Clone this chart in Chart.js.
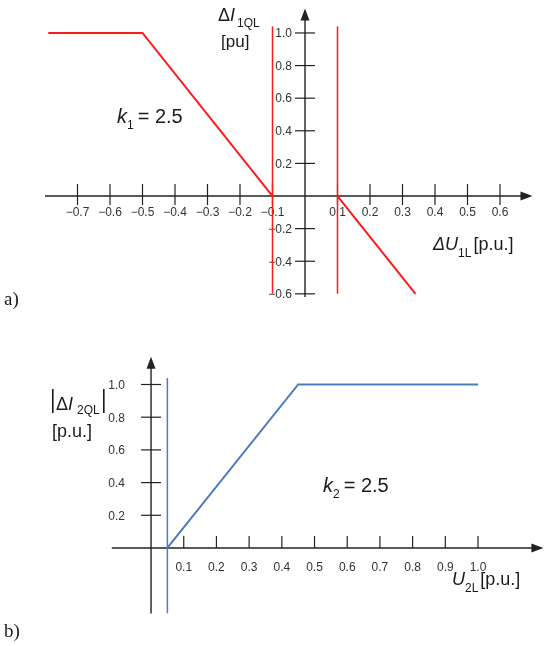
<!DOCTYPE html>
<html>
<head>
<meta charset="utf-8">
<script src="https://cdn.jsdelivr.net/npm/chart.js@4.4.1/dist/chart.umd.min.js"></script>
<style>
  body { margin:0; background:#ffffff; }
  #wrap { position:relative; width:550px; height:646px; }
  canvas { position:absolute; left:0; }
  #chartA { top:0; }
  #chartB { top:320px; }
</style>
</head>
<body>
<div id="wrap">
  <canvas id="chartA" width="550" height="310"></canvas>
  <canvas id="chartB" width="550" height="326"></canvas>
</div>
<script>
// --- datos figura a) ---
const curvaA1X = [-0.79, -0.5, -0.1];
const curvaA1Y = [1.0, 1.0, 0.0];
const curvaA2X = [0.1, 0.34];
const curvaA2Y = [0.0, -0.6];
const limitesAX = [-0.1, 0.1];
const limitesAY = [-0.6, 1.04];
const ticksAX = [-0.7, -0.6, -0.5, -0.4, -0.3, -0.2, -0.1, 0.1, 0.2, 0.3, 0.4, 0.5, 0.6];
const ticksAY = [1.0, 0.8, 0.6, 0.4, 0.2, -0.2, -0.4, -0.6];

// --- datos figura b) ---
const curvaBX = [0.05, 0.45, 1.0];
const curvaBY = [0.0, 1.0, 1.0];
const limiteBX = 0.05;
const limiteBY = [-0.4, 1.04];
const ticksBX = [0.1, 0.2, 0.3, 0.4, 0.5, 0.6, 0.7, 0.8, 0.9, 1.0];
const ticksBY = [1.0, 0.8, 0.6, 0.4, 0.2];

const rojo = '#ff1a1a';
const azul = '#4a7cc0';
const negro = '#222222';
const fuente = '"Liberation Sans", Arial, sans-serif';

function puntos(xs, ys) {
  return xs.map((x, i) => ({ x: x, y: ys[i] }));
}

function fmt(v) {
  const s = Math.abs(v).toFixed(1);
  return v < 0 ? '\u2212' + s : s;
}

// dibuja texto con partes (normal, cursiva, subindice)
function texto(ctx, x, y, partes) {
  let cx = x;
  partes.forEach(p => {
    ctx.font = p.f;
    ctx.fillText(p.t, cx, y + (p.dy || 0));
    cx += ctx.measureText(p.t).width + (p.sp || 0);
  });
}

function flecha(ctx, x, y, dir) {
  ctx.beginPath();
  if (dir === 'up') {
    ctx.moveTo(x, y);
    ctx.lineTo(x - 4.5, y + 12);
    ctx.lineTo(x + 4.5, y + 12);
  } else {
    ctx.moveTo(x, y);
    ctx.lineTo(x - 12, y - 4.5);
    ctx.lineTo(x - 12, y + 4.5);
  }
  ctx.closePath();
  ctx.fill();
}

function ejes(cfg) {
  return {
    id: 'ejes',
    beforeDatasetsDraw(chart) {
      const ctx = chart.ctx;
      const xs = chart.scales.x, ys = chart.scales.y;
      const area = chart.chartArea;
      const x0 = xs.getPixelForValue(0);
      const y0 = ys.getPixelForValue(0);
      ctx.save();
      ctx.strokeStyle = negro;
      ctx.fillStyle = negro;
      ctx.lineWidth = 1.4;
      // eje x
      ctx.beginPath();
      ctx.moveTo(area.left, y0);
      ctx.lineTo(area.right - 6, y0);
      ctx.stroke();
      flecha(ctx, area.right, y0, 'right');
      // eje y
      ctx.beginPath();
      ctx.moveTo(x0, area.bottom);
      ctx.lineTo(x0, area.top + 6);
      ctx.stroke();
      flecha(ctx, x0, area.top, 'up');

      ctx.lineWidth = 1.2;
      ctx.font = '12px ' + fuente;
      ctx.fillStyle = '#333333';
      ctx.textBaseline = 'middle';
      cfg.ticksX.forEach(v => {
        const px = xs.getPixelForValue(v);
        ctx.beginPath();
        ctx.moveTo(px, y0 - cfg.tickXArriba);
        ctx.lineTo(px, y0 + cfg.tickXAbajo);
        ctx.stroke();
        ctx.textAlign = 'center';
        ctx.fillText(fmt(v), px, y0 + cfg.labelXDy);
      });
      cfg.ticksY.forEach(v => {
        const py = ys.getPixelForValue(v);
        ctx.beginPath();
        ctx.moveTo(x0 - 10, py);
        ctx.lineTo(x0 + 10, py);
        ctx.stroke();
        ctx.textAlign = 'right';
        ctx.fillText(fmt(v), x0 - cfg.labelYDx, py + 1);
      });
      ctx.restore();
    },
    afterDraw(chart) {
      const ctx = chart.ctx;
      ctx.save();
      ctx.fillStyle = '#1a1a1a';
      ctx.textAlign = 'left';
      ctx.textBaseline = 'alphabetic';
      cfg.textos(ctx);
      ctx.restore();
    }
  };
}

function opciones(xMin, xMax, yMin, yMax, pad) {
  return {
    responsive: false,
    animation: false,
    layout: { padding: pad },
    scales: {
      x: { type: 'linear', min: xMin, max: xMax, display: false },
      y: { type: 'linear', min: yMin, max: yMax, display: false }
    },
    plugins: { legend: { display: false }, tooltip: { enabled: false } },
    elements: { point: { radius: 0 } }
  };
}

function serie(datos, color, ancho) {
  return { data: datos, showLine: true, borderColor: color, borderWidth: ancho, pointRadius: 0, fill: false, tension: 0 };
}

new Chart(document.getElementById('chartA'), {
  type: 'scatter',
  data: {
    datasets: [
      serie(puntos(curvaA1X, curvaA1Y), rojo, 2),
      serie(puntos(curvaA2X, curvaA2Y), rojo, 2),
      serie(puntos([limitesAX[0], limitesAX[0]], limitesAY), rojo, 1.5),
      serie(puntos([limitesAX[1], limitesAX[1]], limitesAY), rojo, 1.5)
    ]
  },
  options: opciones(-0.8, 0.7, -0.62, 1.15, { left: 45, right: 17.5, top: 8.5, bottom: 12.9 }),
  plugins: [ejes({
    ticksX: ticksAX, ticksY: ticksAY,
    tickXArriba: 12, tickXAbajo: 9, labelXDy: 17, labelYDx: 13,
    textos(ctx) {
      texto(ctx, 218, 21, [
        { t: '\u0394', f: '18px ' + fuente },
        { t: 'I', f: 'italic 18px ' + fuente, sp: 2 },
        { t: '1QL', f: '12px ' + fuente, dy: 6 }
      ]);
      texto(ctx, 221, 47, [{ t: '[pu]', f: '17px ' + fuente }]);
      texto(ctx, 117, 123, [
        { t: 'k', f: 'italic 20px ' + fuente },
        { t: '1', f: '12px ' + fuente, dy: 6, sp: 4 },
        { t: '= 2.5', f: '20px ' + fuente }
      ]);
      texto(ctx, 433, 250, [
        { t: '\u0394U', f: 'italic 18px ' + fuente },
        { t: '1L', f: '12px ' + fuente, dy: 7, sp: 2 },
        { t: '[p.u.]', f: '18px ' + fuente }
      ]);
      texto(ctx, 4, 305, [{ t: 'a)', f: '19px "Liberation Serif", "DejaVu Serif", serif' }]);
    }
  })]
});

new Chart(document.getElementById('chartB'), {
  type: 'scatter',
  data: {
    datasets: [
      serie(puntos(curvaBX, curvaBY), azul, 2),
      serie(puntos([limiteBX, limiteBX], limiteBY), azul, 1.5)
    ]
  },
  options: opciones(-0.12, 1.2, -0.4, 1.17, { left: 111.8, right: 6.6, top: 36.7, bottom: 32.6 }),
  plugins: [ejes({
    ticksX: ticksBX, ticksY: ticksBY,
    tickXArriba: 12, tickXAbajo: 0, labelXDy: 20, labelYDx: 26,
    textos(ctx) {
      ctx.fillRect(52, 69, 1.6, 24);
      texto(ctx, 56, 90, [
        { t: '\u0394', f: '18px ' + fuente },
        { t: 'I', f: 'italic 18px ' + fuente, sp: 4 },
        { t: '2QL', f: '12px ' + fuente, dy: 4 }
      ]);
      ctx.fillRect(103, 69, 1.6, 24);
      texto(ctx, 52, 117, [{ t: '[p.u.]', f: '18px ' + fuente }]);
      texto(ctx, 323, 172, [
        { t: 'k', f: 'italic 20px ' + fuente },
        { t: '2', f: '12px ' + fuente, dy: 6, sp: 4 },
        { t: '= 2.5', f: '20px ' + fuente }
      ]);
      texto(ctx, 452, 265, [
        { t: 'U', f: 'italic 18px ' + fuente },
        { t: '2L', f: '12px ' + fuente, dy: 7, sp: 2 },
        { t: '[p.u.]', f: '18px ' + fuente }
      ]);
      texto(ctx, 4, 317, [{ t: 'b)', f: '19px "Liberation Serif", "DejaVu Serif", serif' }]);
    }
  })]
});
</script>
</body>
</html>
